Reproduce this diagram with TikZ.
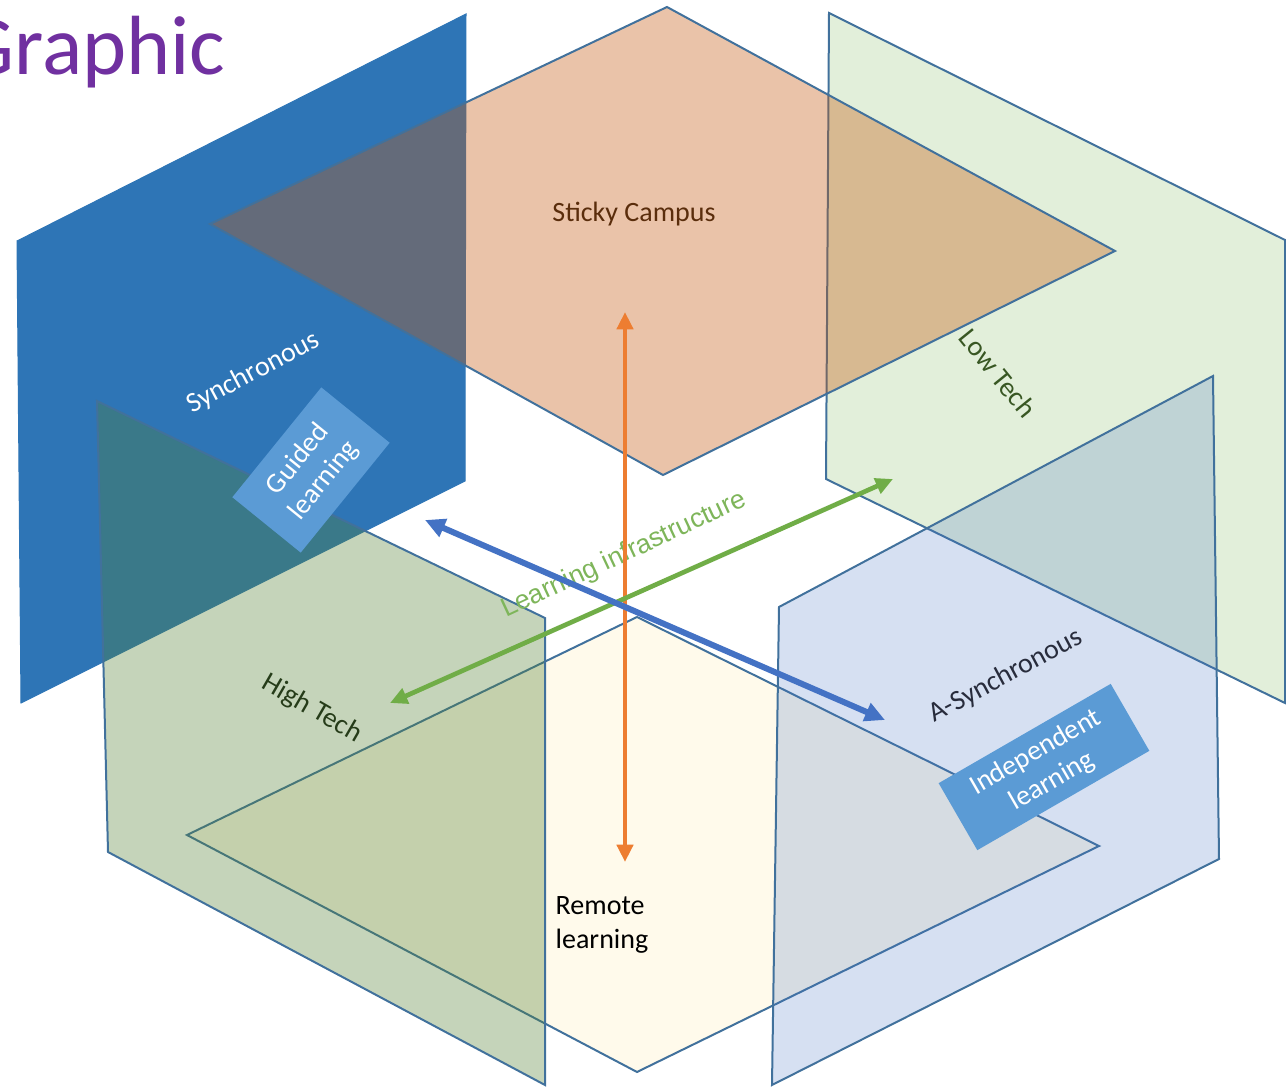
\documentclass[tikz,border=0pt]{standalone}
\usepackage{fontspec}
\setmainfont{Carlito}
\newfontfamily\arialfont{Liberation Sans}
\usetikzlibrary{arrows.meta}

\definecolor{synblue}{RGB}{46,117,182}
\definecolor{panelline}{RGB}{65,113,156}
\definecolor{campusorange}{RGB}{197,90,17}
\definecolor{lowgreen}{RGB}{226,239,218}
\definecolor{highgreen}{RGB}{84,130,53}
\definecolor{remotecream}{RGB}{255,242,204}
\definecolor{asynblue}{RGB}{68,114,196}
\definecolor{boxblue}{RGB}{91,155,213}
\definecolor{arroworange}{RGB}{237,125,49}
\definecolor{arrowgreen}{RGB}{112,173,71}
\definecolor{arrowblue}{RGB}{68,114,196}
\definecolor{titlepurple}{RGB}{112,48,160}
\definecolor{campustext}{RGB}{90,45,12}
\definecolor{lowtext}{RGB}{56,87,35}
\definecolor{hightext}{RGB}{38,60,25}
\definecolor{asyntext}{RGB}{40,44,60}

\tikzset{every picture/.style={line width=0.75pt}}
\tikzset{
  panel/.style={draw=panelline, line width=1.5pt, line join=miter},
  label/.style={font=\fontsize{21}{25}\selectfont, inner sep=0pt},
  notebox/.style={label, fill=boxblue, text=white, align=center},
  axisline/.style={line width=3.5pt, {Triangle[length=13pt,width=12pt]}-{Triangle[length=13pt,width=12pt]}},
}

\begin{document}
\begin{tikzpicture}[x=0.75pt,y=0.75pt,yscale=-1,xscale=1]
\useasboundingbox (0,0) rectangle (1286,1087);

%Shape: Synchronous panel
\draw [fill=synblue, draw=synblue] (17,241) -- (466,14) -- (465,481) -- (21,703) -- cycle ;
%Shape: Low Tech panel
\draw [panel, fill=lowgreen] (829,13) -- (1285,240) -- (1285,703) -- (826,479) -- cycle ;
%Shape: Sticky Campus rhombus
\draw [panel, fill=campusorange, fill opacity=0.36] (210,224) -- (667,7) -- (1115,251) -- (663,475) -- cycle ;
%Shape: Remote learning rhombus
\draw [panel, fill=remotecream, fill opacity=0.4] (187,835) -- (637,617) -- (1099,846) -- (637,1072) -- cycle ;
%Shape: High Tech panel
\draw [panel, fill=highgreen, fill opacity=0.34] (97,401) -- (545,618) -- (545,1085) -- (108,852) -- cycle ;
%Shape: A-Synchronous panel
\draw [panel, fill=asynblue, fill opacity=0.22] (779,607) -- (1213,376) -- (1219,859) -- (772,1085) -- cycle ;

% Text Node
\node [label, text=titlepurple, font=\fontsize{63}{70}\selectfont, anchor=base east] (title) at (226,75) {Graphic};
% Text Node
\node [label, text=campustext] (sticky) at (634,214) {Sticky Campus};
% Text Node
\node [label, align=left] (remote) at (602,925) {Remote\\learning};
% Text Node
\node [label, text=white, rotate=28] (sync) at (253,373) {Synchronous};
% Text Node
\node [label, text=asyntext, rotate=28] (async) at (1006,676) {A-Synchronous};
% Text Node
\node [label, text=lowtext, rotate=-51] (lowtech) at (998,373) {Low Tech};
% Text Node
\node [label, text=hightext, rotate=-30] (hightech) at (312,709) {High Tech};
% Text Node
\node [label, text=arrowgreen!90!white, font=\arialfont\fontsize{20}{22}\selectfont, rotate=25] (infra) at (624,555) {Learning infrastructure};

%Box: Guided learning
\node [notebox, minimum width=106pt, minimum height=66pt, rotate=51] (guided) at (311,470) {Guided\\learning};
%Box: Independent learning
\node [notebox, minimum width=149pt, minimum height=58pt, rotate=30] (independent) at (1044,767) {Independent\\learning};

%Straight Lines: axes
\coordinate (campusend) at (625,312);
\coordinate (remoteend) at (625,862);
\coordinate (highend) at (390,703);
\coordinate (lowend) at (893,479);
\coordinate (syncend) at (425,520);
\coordinate (asyncend) at (885,720);
\draw [axisline, draw=arroworange, fill=arroworange] (campusend) -- (remoteend) ;
\draw [axisline, draw=arrowgreen, fill=arrowgreen] (highend) -- (lowend) ;
\draw [axisline, line width=4.5pt, draw=arrowblue, fill=arrowblue, {Triangle[length=15pt,width=14pt]}-{Triangle[length=15pt,width=14pt]}] (syncend) -- (asyncend) ;

\end{tikzpicture}
\end{document}
